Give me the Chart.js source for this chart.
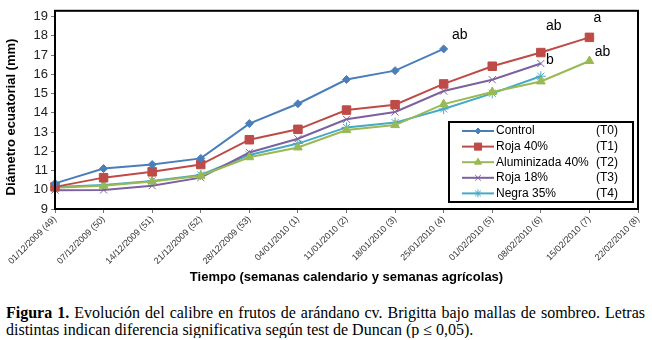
<!DOCTYPE html>
<html>
<head>
<meta charset="utf-8">
<script src="https://cdn.jsdelivr.net/npm/chart.js@4.4.1/dist/chart.umd.min.js"></script>
<style>
  body { margin: 0; background: #fff; }
  #wrap { position: relative; width: 652px; height: 289px; }
  #caption {
    font-family: "Liberation Serif", "Times New Roman", serif;
    font-size: 16px; line-height: 17px; color: #000;
    margin: 15px 7px 0 6px;
    text-align: justify; text-align-last: left;
  }
</style>
</head>
<body>
<div id="wrap"><canvas id="grafico" width="652" height="289"></canvas></div>
<div id="caption"><b>Figura 1.</b> Evolución del calibre en frutos de arándano cv. Brigitta bajo mallas de sombreo. Letras distintas indican diferencia significativa según test de Duncan (p ≤ 0,05).</div>

<script>
// semanas calendario (semana agricola)
const semanas = ['01/12/2009 (49)', '07/12/2009 (50)', '14/12/2009 (51)', '21/12/2009 (52)', '28/12/2009 (53)',
    '04/01/2010 (1)', '11/01/2010 (2)', '18/01/2010 (3)', '25/01/2010 (4)', '01/02/2010 (5)',
    '08/02/2010 (6)', '15/02/2010 (7)', '22/02/2010 (8)'];

// diametro ecuatorial (mm) por tratamiento
const control = [10.33, 11.10, 11.31, 11.63, 13.44, 14.47, 15.73, 16.19, 17.32, null, null, null, null];
const roja40 = [10.15, 10.63, 10.93, 11.31, 12.60, 13.14, 14.14, 14.42, 15.50, 16.42, 17.13, 17.92, null];
const aluminizada40 = [10.10, 10.21, 10.43, 10.73, 11.69, 12.20, 13.10, 13.36, 14.45, 15.08, 15.63, 16.69, null];
const roja18 = [9.98, 9.99, 10.21, 10.63, 11.94, 12.65, 13.66, 14.04, 15.13, 15.72, 16.56, null, null];
const negra35 = [10.14, 10.25, 10.46, 10.77, 11.81, 12.40, 13.24, 13.49, 14.20, 15.01, 15.90, null, null];

const nombres = ['Control', 'Roja 40%', 'Aluminizada 40%', 'Roja 18%', 'Negra 35%'];
const codigos = ['(T0)', '(T1)', '(T2)', '(T3)', '(T4)'];

// letras de Duncan: serie, semana (indice) y texto
const letrasSerie = [0, 1, 1, 3, 2];
const letrasIndice = [8, 10, 11, 10, 11];
const letrasTexto = ['ab', 'ab', 'a', 'b', 'ab'];

// marcas del eje Y
const yTicks = [9, 10, 11, 12, 13, 14, 15, 16, 17, 18, 19];

const fuente = '"Liberation Sans", Arial, sans-serif';

function serie(label, data, color, estilo, radio) {
    return {
        label: label,
        data: data,
        borderColor: color,
        backgroundColor: color,
        borderWidth: 2,
        pointStyle: estilo,
        pointRadius: radio,
        pointBorderWidth: 1,
        pointBorderColor: color,
        pointBackgroundColor: color,
        tension: 0,
        spanGaps: false
    };
}

const dados = {
    labels: semanas,
    datasets: [
        serie(nombres[0], control, '#4A7EBB', 'rectRot', 4),
        serie(nombres[1], roja40, '#BE4B48', 'rect', 6),
        serie(nombres[2], aluminizada40, '#98B954', 'triangle', 5),
        serie(nombres[3], roja18, '#7D60A0', 'crossRot', 5),
        serie(nombres[4], negra35, '#46AAC5', 'star', 5)
    ]
};

// marco, titulo del eje Y, letras y leyenda
const extras = {
    id: 'extras',
    afterDatasetsDraw(chart) {
        const ctx = chart.ctx;
        const a = chart.chartArea;
        const sx = chart.scales.x;
        const sy = chart.scales.y;
        ctx.save();

        ctx.strokeStyle = '#000';
        ctx.lineWidth = 2;
        ctx.strokeRect(a.left, a.top, a.right - a.left, a.bottom - a.top);

        // titulo eje Y
        ctx.save();
        ctx.translate(11, 117);
        ctx.rotate(-Math.PI / 2);
        ctx.font = 'bold 13px ' + fuente;
        ctx.fillStyle = '#000';
        ctx.textAlign = 'center';
        ctx.textBaseline = 'middle';
        ctx.fillText('Diámetro ecuatorial (mm)', 0, 0);
        ctx.restore();

        // letras
        const desplaz = [[16, -14], [13, -26], [8, -19], [9, -3], [13, -9]];
        ctx.font = '14px ' + fuente;
        ctx.fillStyle = '#000';
        ctx.textAlign = 'center';
        ctx.textBaseline = 'middle';
        for (let i = 0; i < letrasTexto.length; i++) {
            const v = chart.data.datasets[letrasSerie[i]].data[letrasIndice[i]];
            const px = sx.getPixelForValue(letrasIndice[i]);
            const py = sy.getPixelForValue(v);
            ctx.fillText(letrasTexto[i], px + desplaz[i][0], py + desplaz[i][1]);
        }

        // leyenda
        const lx = 449, ly = 122, lw = 184, lh = 80;
        ctx.fillStyle = '#fff';
        ctx.fillRect(lx, ly, lw, lh);
        ctx.strokeStyle = '#000';
        ctx.lineWidth = 2;
        ctx.strokeRect(lx, ly, lw, lh);
        ctx.font = '12px ' + fuente;
        ctx.textBaseline = 'middle';
        const radiosLeyenda = [3, 5, 4, 4, 4];
        chart.data.datasets.forEach(function (ds, i) {
            const y = ly + 9 + i * 15.6;
            ctx.strokeStyle = ds.borderColor;
            ctx.lineWidth = 2;
            ctx.beginPath();
            ctx.moveTo(462, y);
            ctx.lineTo(494, y);
            ctx.stroke();
            ctx.fillStyle = ds.borderColor;
            ctx.lineWidth = 1;
            Chart.helpers.drawPoint(ctx, { pointStyle: ds.pointStyle, radius: radiosLeyenda[i], rotation: 0, borderWidth: 1 }, 478, y);
            ctx.fillStyle = '#000';
            ctx.textAlign = 'left';
            ctx.fillText(ds.label, 496, y);
            ctx.textAlign = 'right';
            ctx.fillText(codigos[i], 618, y);
        });

        ctx.restore();
    }
};

const config = {
    type: 'line',
    data: dados,
    options: {
        responsive: false,
        animation: false,
        layout: { padding: { left: 2, right: 14, top: 5, bottom: 0 } },
        plugins: {
            legend: { display: false },
            tooltip: { enabled: false }
        },
        scales: {
            x: {
                offset: false,
                grid: { display: true, drawOnChartArea: false, tickLength: 4, color: '#777' },
                border: { display: false },
                ticks: {
                    autoSkip: false, minRotation: 45, maxRotation: 45, padding: 1,
                    font: { family: fuente, size: 9 }, color: '#333'
                },
                title: {
                    display: true,
                    text: 'Tiempo (semanas calendario y semanas agrícolas)',
                    font: { family: fuente, size: 13, weight: 'bold' },
                    color: '#000',
                    padding: { top: 4, bottom: 4 }
                },
                afterFit(s) { s.height = 80; }
            },
            y: {
                min: yTicks[0],
                max: yTicks[yTicks.length - 1] + 0.3,
                grid: { display: true, drawOnChartArea: false, tickLength: 4, color: '#777' },
                border: { display: false },
                ticks: { padding: 3, font: { family: fuente, size: 13 }, color: '#222' },
                afterBuildTicks(s) {
                    s.ticks = yTicks.map(v => ({ value: v }));
                },
                afterFit(s) { s.width = 53; }
            }
        }
    },
    plugins: [extras]
};

let myChart = new Chart(document.getElementById('grafico'), config);
</script>
</body>
</html>
